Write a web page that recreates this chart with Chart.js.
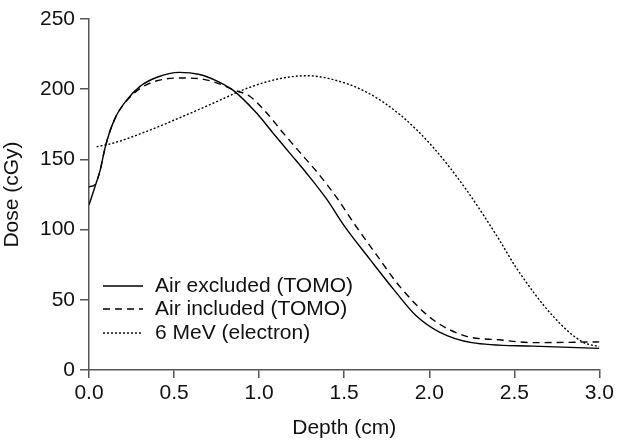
<!DOCTYPE html>
<html>
<head>
<meta charset="utf-8">
<script src="https://cdn.jsdelivr.net/npm/chart.js@4.4.0/dist/chart.umd.min.js"></script>
<style>
  html, body { margin: 0; padding: 0; background: #fff; }
  #wrap { width: 617px; height: 441px; }
</style>
</head>
<body>
<div id="wrap"><canvas id="chart"></canvas></div>
<script>
// Depth (cm) / dose (cGy)
const seriesNames = ['Air excluded (TOMO)', 'Air included (TOMO)', '6 MeV (electron)'];

const depthExcluded = [0, 0.035, 0.065, 0.094, 0.123, 0.16, 0.22, 0.30, 0.40, 0.53, 0.65, 0.75, 0.85, 0.985, 1.08, 1.18, 1.28, 1.395, 1.51, 1.65, 1.80, 1.92, 2.06, 2.25, 2.61, 3.0];
const doseExcluded  = [117.5, 130.5, 142, 158, 170, 181, 192, 202, 208.5, 212, 210.5, 206, 199, 183, 169, 154.5, 140, 122, 101, 79, 56, 39, 27, 19.5, 17, 15.4];

const depthIncluded = [0, 0.035, 0.065, 0.094, 0.123, 0.16, 0.22, 0.30, 0.40, 0.53, 0.65, 0.75, 0.85, 0.945, 1.045, 1.14, 1.24, 1.34, 1.455, 1.56, 1.69, 1.83, 2.02, 2.22, 2.41, 2.61, 3.0];
const doseIncluded  = [130.5, 132, 142, 158, 170, 181, 191.5, 200.5, 206, 208, 207.5, 204.5, 199.5, 195, 183, 169, 155, 141, 123, 104, 82, 59, 36, 24, 21.5, 19.5, 20];

const depthElectron = [0.045, 0.14, 0.34, 0.53, 0.73, 0.926, 1.12, 1.28, 1.43, 1.63, 1.83, 2.02, 2.22, 2.41, 2.51, 2.73, 2.90, 3.0];
const doseElectron  = [159, 161.5, 170, 179.5, 190, 200.5, 207.5, 209.6, 207, 198, 181.6, 159, 128, 93, 73, 38, 20, 16.6];

const xTicks = [0, 0.5, 1.0, 1.5, 2.0, 2.5, 3.0];
const yTicks = [0, 50, 100, 150, 200, 250];

const FONT = '"Liberation Sans", Arial, Helvetica, sans-serif';
const FSIZE = 21;
const AXIS = '#555';

const toPoints = (xs, ys) => xs.map((x, i) => ({ x, y: ys[i] }));

const dashes = [[], [7, 5], [2, 2]];

// legend drawn inside the plot, bottom-left
const insideLegend = {
    id: 'insideLegend',
    afterDraw(chart) {
        const { ctx, chartArea } = chart;
        const x0 = chartArea.left + 14;
        const rows = [chartArea.bottom - 84, chartArea.bottom - 61, chartArea.bottom - 37];
        ctx.save();
        ctx.font = FSIZE + 'px ' + FONT;
        ctx.textBaseline = 'middle';
        ctx.fillStyle = '#111';
        chart.data.datasets.forEach((ds, i) => {
            const y = rows[i];
            ctx.strokeStyle = ds.borderColor;
            ctx.lineWidth = ds.borderWidth;
            ctx.setLineDash(ds.borderDash || []);
            ctx.beginPath();
            ctx.moveTo(x0, y);
            ctx.lineTo(x0 + 40, y);
            ctx.stroke();
            ctx.setLineDash([]);
            ctx.fillText(ds.label, x0 + 52, y);
        });
        ctx.restore();
    }
};

new Chart(document.getElementById('chart'), {
    type: 'line',
    data: {
        datasets: [
            { label: seriesNames[0], data: toPoints(depthExcluded, doseExcluded), borderColor: '#000', borderWidth: 1.4, borderDash: dashes[0] },
            { label: seriesNames[1], data: toPoints(depthIncluded, doseIncluded), borderColor: '#000', borderWidth: 1.4, borderDash: dashes[1] },
            { label: seriesNames[2], data: toPoints(depthElectron, doseElectron), borderColor: '#000', borderWidth: 1.4, borderDash: dashes[2] }
        ]
    },
    options: {
        responsive: true,
        maintainAspectRatio: false,
        animation: false,
        events: [],
        layout: { padding: { top: 19, right: 17, left: 0, bottom: 0 } },
        elements: {
            point: { radius: 0 },
            line: { cubicInterpolationMode: 'monotone', fill: false }
        },
        plugins: { legend: { display: false }, tooltip: { enabled: false } },
        scales: {
            x: {
                type: 'linear',
                min: 0, max: 3,
                afterFit: s => { s.height = 71; },
                afterBuildTicks: s => { s.ticks = xTicks.map(v => ({ value: v })); },
                ticks: { color: '#111', font: { family: FONT, size: FSIZE }, padding: 3, callback: v => v.toFixed(1) },
                grid: { drawOnChartArea: false, drawTicks: true, tickLength: 8, color: AXIS, lineWidth: 1.5 },
                border: { display: true, color: AXIS, width: 1.5 },
                title: { display: true, text: 'Depth (cm)', color: '#111', font: { family: FONT, size: FSIZE }, padding: { top: 3, bottom: 0 } }
            },
            y: {
                min: 0, max: 250,
                afterFit: s => { s.width = 89; },
                afterBuildTicks: s => { s.ticks = yTicks.map(v => ({ value: v })); },
                ticks: { color: '#111', font: { family: FONT, size: FSIZE }, padding: 5 },
                grid: { drawOnChartArea: false, drawTicks: true, tickLength: 9, color: AXIS, lineWidth: 1.5 },
                border: { display: true, color: AXIS, width: 1.5 },
                title: { display: true, text: 'Dose (cGy)', color: '#111', font: { family: FONT, size: FSIZE }, padding: 0 }
            }
        }
    },
    plugins: [insideLegend]
});
</script>
</body>
</html>
